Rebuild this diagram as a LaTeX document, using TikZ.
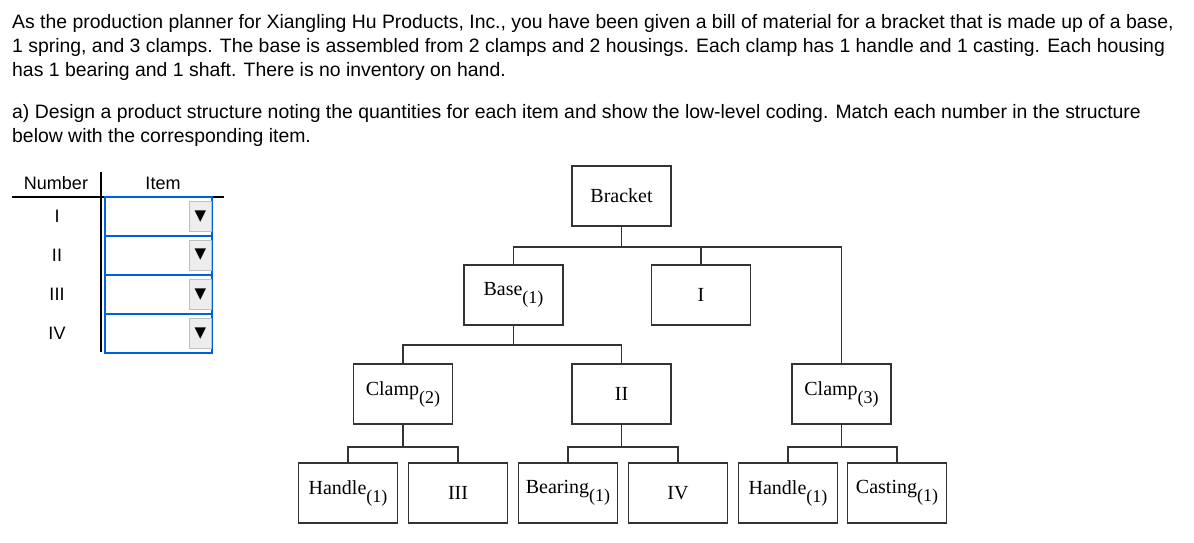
\documentclass[tikz,border=0pt]{standalone}
\usepackage{fontspec}
\setmainfont{Liberation Sans}
\newfontfamily\bomfont{Liberation Serif}
\newfontfamily\arrowfont{DejaVu Sans}
\usetikzlibrary{positioning}

\newcommand{\cnt}[1]{\raisebox{-8pt}{\fontsize{18}{18}\selectfont(#1)}}

\begin{document}
\begin{tikzpicture}[x=1pt, y=-1pt,
    part/.style={draw=black!80, line width=1.6pt, minimum width=99pt, minimum height=60pt,
                 inner sep=0pt, font=\bomfont\fontsize{20}{22}\selectfont},
    link/.style={draw=black!80, line width=1.6pt},
    pick/.style={draw=blue!55!cyan!85!black, line width=1.5pt, minimum width=107pt, minimum height=39pt},
    button/.style={draw=black!25, fill=black!7, minimum width=22pt, minimum height=30pt, inner sep=0pt,
                   font=\arrowfont\fontsize{15}{15}\selectfont}]
    \useasboundingbox (0,0) rectangle (1194,543);

    % question text
    \node[anchor=north west, align=left, inner sep=0pt, font=\fontsize{19.4}{24}\selectfont] (intro) at (12,14)
        {As the production planner for Xiangling Hu Products, Inc., you have been given a bill of material for a bracket that is made up of a base,\\
         1 spring, and 3 clamps. The base is assembled from 2 clamps and 2 housings. Each clamp has 1 handle and 1 casting. Each housing\\
         has 1 bearing and 1 shaft. There is no inventory on hand.};
    \node[anchor=north west, align=left, inner sep=0pt, font=\fontsize{19.4}{24}\selectfont] (task) at (12,104)
        {a) Design a product structure noting the quantities for each item and show the low-level coding. Match each number in the structure\\
         below with the corresponding item.};

    % answer table
    \node[font=\fontsize{18}{18}\selectfont] (hnum) at (56,183) {Number};
    \node[font=\fontsize{18}{18}\selectfont] (hitem) at (163,183) {Item};
    \draw[line width=1.2pt] (12,197) -- (224,197);
    \draw[line width=1.2pt] (101,172) -- (101,352);
    \foreach \lbl/\y [count=\i] in {I/216.5, II/255, III/294.5, IV/333.5}{
        \node[font=\fontsize{18}{18}\selectfont] (num\i) at (57,\y) {\lbl};
        \node[pick] (item\i) at (158.5,\y) {};
        \node[button] (btn\i) at (200.5,\y) {▼};
    }

    % product structure
    \node[part] (bracket) at (621.5,196) {Bracket};
    \node[part] (base)    at (513.5,295) {Base\cnt{1}};
    \node[part] (spring)  at (701,295)   {I};
    \node[part] (clampA)  at (403,394)   {Clamp\cnt{2}};
    \node[part] (housing) at (621.5,394) {II};
    \node[part] (clampB)  at (841.5,394) {Clamp\cnt{3}};
    \node[part] (handleA) at (348,493)   {Handle\cnt{1}};
    \node[part] (castA)   at (458,493)   {III};
    \node[part] (bearing) at (568,493)   {Bearing\cnt{1}};
    \node[part] (shaft)   at (678,493)   {IV};
    \node[part] (handleB) at (788,493)   {Handle\cnt{1}};
    \node[part] (castB)   at (897,493)   {Casting\cnt{1}};

    \coordinate[below=20pt of bracket.south] (j0);
    \coordinate[below=19pt of base.south]    (j1);
    \coordinate[below=22pt of clampA.south]  (j2);
    \coordinate[below=22pt of housing.south] (j3);
    \coordinate[below=22pt of clampB.south]  (j4);

    \draw[link] (bracket.south) -- (j0);
    \draw[link] (base.north) |- (j0) -| (clampB.north);
    \draw[link] (spring.north) -- (spring.north |- j0);
    \draw[link] (base.south) -- (j1);
    \draw[link] (clampA.north) |- (j1) -| (housing.north);
    \draw[link] (clampA.south) -- (j2);
    \draw[link] (handleA.north) |- (j2) -| (castA.north);
    \draw[link] (housing.south) -- (j3);
    \draw[link] (bearing.north) |- (j3) -| (shaft.north);
    \draw[link] (clampB.south) -- (j4);
    \draw[link] (handleB.north) |- (j4) -| (castB.north);
\end{tikzpicture}
\end{document}
